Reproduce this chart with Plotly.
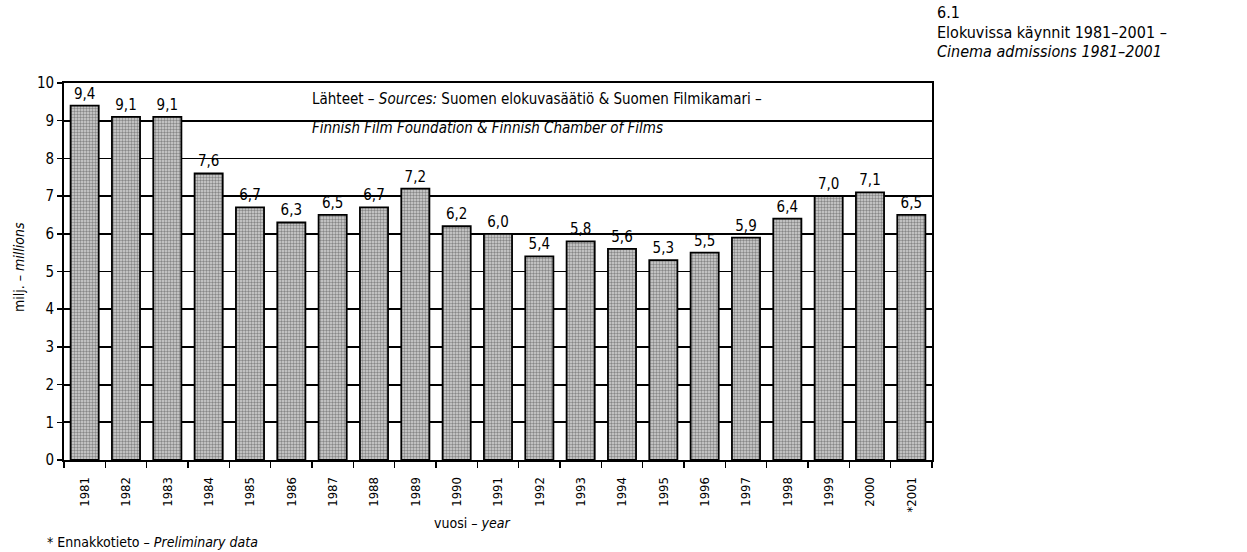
import plotly.graph_objects as go

years = ["1981", "1982", "1983", "1984", "1985", "1986", "1987", "1988", "1989", "1990",
         "1991", "1992", "1993", "1994", "1995", "1996", "1997", "1998", "1999", "2000", "*2001"]
admissions = [9.4, 9.1, 9.1, 7.6, 6.7, 6.3, 6.5, 6.7, 7.2, 6.2,
              6.0, 5.4, 5.8, 5.6, 5.3, 5.5, 5.9, 6.4, 7.0, 7.1, 6.5]
y_ticks = [0, 1, 2, 3, 4, 5, 6, 7, 8, 9, 10]

labels = [f"{v:.1f}".replace(".", ",") for v in admissions]

FONT = "DejaVu Sans Condensed, Liberation Sans Narrow, Arial Narrow, sans-serif"

fig = go.Figure()
fig.add_trace(go.Bar(
    x=years, y=admissions, text=labels, textposition="outside",
    textfont=dict(size=15, color="black", family=FONT),
    cliponaxis=False,
    marker=dict(color="#b0b0b0",
                line=dict(color="black", width=1.8),
                pattern=dict(shape=".", fgcolor="#3a3a3a", bgcolor="#d4d4d4",
                             size=3, solidity=0.5)),
    hoverinfo="skip",
))

W, H = 1247, 552
L, R, T, B = 64, 315, 83, 92

fig.update_layout(
    width=W, height=H,
    margin=dict(l=L, r=R, t=T, b=B),
    paper_bgcolor="white", plot_bgcolor="white",
    font=dict(family=FONT, color="black", size=14),
    bargap=0.32, showlegend=False,
    xaxis=dict(type="category", tickson="boundaries", ticks="outside", ticklen=6,
               tickwidth=1.5, tickcolor="black", tickangle=-90, ticklabelstandoff=10,
               tickfont=dict(size=13, family=FONT),
               showline=True, linecolor="black", linewidth=1.8, mirror=True,
               showgrid=False, range=[-0.5, 20.5]),
    yaxis=dict(range=[0, 10], tickvals=y_ticks, ticks="outside", ticklen=5,
               tickwidth=1.5, tickcolor="black", tickfont=dict(size=15, family=FONT),
               showline=True, linecolor="black", linewidth=1.8, mirror=True,
               showgrid=True, gridcolor="black", gridwidth=1.8, zeroline=False),
)

ann = [
    dict(text="Lähteet – <i>Sources:</i> Suomen elokuvasäätiö & Suomen Filmikamari –",
         x=0.283, y=9.58, xref="paper", yref="y", xanchor="left", yanchor="middle", font=dict(size=15)),
    dict(text="<i>Finnish Film Foundation & Finnish Chamber of Films</i>",
         x=0.283, y=8.8, xref="paper", yref="y", xanchor="left", yanchor="middle", font=dict(size=15)),
    dict(text="milj. – <i>millions</i>", textangle=-90, x=19, y=267, font=dict(size=14)),
    dict(text="vuosi – <i>year</i>", x=472, y=523, font=dict(size=14)),
    dict(text="* Ennakkotieto – <i>Preliminary data</i>", x=45, y=542, xanchor="left", font=dict(size=14)),
    dict(text="6.1", x=935, y=12, xanchor="left", font=dict(size=16)),
    dict(text="Elokuvissa käynnit 1981–2001 –", x=935, y=32, xanchor="left", font=dict(size=16)),
    dict(text="<i>Cinema admissions 1981–2001</i>", x=935, y=52, xanchor="left", font=dict(size=16)),
]
pw, ph = W - L - R, H - T - B
for a in ann:
    if a.get("yref") == "y":
        fig.add_annotation(showarrow=False, **a)
        continue
    px, py = a.pop("x"), a.pop("y")
    fig.add_annotation(showarrow=False, xref="paper", yref="paper",
                       x=(px - L) / pw, y=(H - B - py) / ph,
                       yanchor=a.pop("yanchor", "middle"), xanchor=a.pop("xanchor", "center"), **a)

fig.write_html("out.html", config={"displayModeBar": False, "staticPlot": True},
               post_script="document.body.style.margin='0';document.body.style.overflow='hidden';")
